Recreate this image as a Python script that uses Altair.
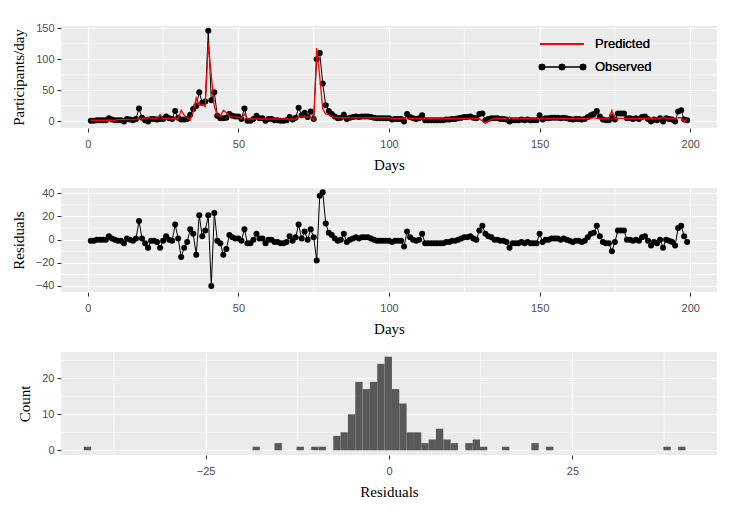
import altair as alt
import pandas as pd

# ---------------- data ----------------
days = list(range(1, 200))

observed = [
    1, 1, 2, 2, 2, 2, 5, 3, 2, 2,
    2, 0, 4, 3, 2, 4, 21, 6, 2, 0,
    4, 4, 3, 4, 4, 8, 5, 4, 17, 6,
    3, 3, 4, 11, 20, 25, 47, 30, 32, 146,
    34, 47, 9, 5, 5, 6, 12, 9, 8, 8,
    4, 21, 1, 1, 4, 9, 5, 5, 1, 4,
    4, 2, 2, 1, 1, 2, 7, 3, 6, 22,
    10, 14, 7, 16, 4, 100, 110, 61, 26, 17,
    12, 8, 5, 6, 11, 4, 6, 7, 8, 7,
    8, 8, 8, 7, 6, 5, 5, 5, 5, 5,
    3, 4, 4, 4, 0, 12, 7, 5, 4, 5,
    10, 2, 2, 2, 2, 2, 2, 2, 3, 3,
    4, 4, 5, 6, 7, 7, 8, 6, 5, 12,
    13, 2, 4, 5, 5, 5, 4, 4, 3, 0,
    2, 2, 2, 3, 2, 3, 2, 2, 2, 10,
    3, 5, 5, 6, 6, 6, 5, 6, 5, 4,
    3, 4, 4, 3, 4, 7, 10, 12, 17, 8,
    3, 2, 2, 8, 3, 13, 13, 13, 5, 5,
    4, 5, 4, 7, 8, 4, 0, 3, 2, 5,
    0, 5, 4, 3, 0, 16, 18, 3, 2,
]

predicted = [
    2, 2, 2, 2, 2, 2, 2, 2, 2, 3,
    3, 3, 3, 3, 3, 3, 5, 5, 5, 7,
    5, 5, 5, 11, 5, 5, 5, 5, 4, 5,
    18, 10, 6, 2, 15, 38, 26, 27, 24, 125,
    74, 24, 10, 8, 18, 14, 8, 7, 7, 7,
    5, 12, 4, 4, 4, 4, 4, 4, 4, 4,
    4, 4, 4, 4, 4, 4, 4, 4, 4, 9,
    9, 7, 7, 7, 2, 118, 72, 20, 12, 11,
    8, 7, 6, 6, 6, 6, 6, 6, 6, 6,
    6, 6, 6, 6, 6, 6, 6, 6, 6, 6,
    5, 5, 5, 5, 6, 5, 5, 5, 5, 5,
    5, 5, 5, 5, 5, 5, 5, 5, 5, 5,
    5, 5, 5, 5, 5, 5, 5, 5, 5, 4,
    1, -3, 1, 3, 5, 5, 5, 5, 5, 7,
    5, 5, 5, 5, 5, 5, 5, 5, 5, 5,
    5, 5, 5, 5, 5, 5, 5, 5, 5, 5,
    5, 5, 5, 5, 5, 5, 5, 6, 5, 5,
    5, 5, 5, 18, 5, 5, 5, 5, 5, 5,
    5, 5, 5, 5, 5, 5, 5, 5, 5, 5,
    7, 5, 5, 5, 5, 6, 6, 0, 4,
]

residuals = [
    -1, -1, 0, 0, 0, 0, 3, 1, 0, -1,
    -1, -3, 1, 0, -1, 1, 16, 1, -3, -7,
    -1, -1, -2, -7, -1, 3, 0, -1, 13, 1,
    -15, -7, -2, 9, 5, -13, 21, 3, 8, 21,
    -40, 23, -1, -3, -13, -8, 4, 2, 1, 1,
    -1, 9, -3, -3, 0, 5, 1, 1, -3, 0,
    0, -2, -2, -3, -3, -2, 3, -1, 2, 13,
    1, 7, 0, 9, 2, -18, 38, 41, 14, 6,
    4, 1, -1, 0, 5, -2, 0, 1, 2, 1,
    2, 2, 2, 1, 0, -1, -1, -1, -1, -1,
    -2, -1, -1, -1, -6, 7, 2, 0, -1, 0,
    5, -3, -3, -3, -3, -3, -3, -3, -2, -2,
    -1, -1, 0, 1, 2, 2, 3, 1, 0, 8,
    12, 5, 3, 2, 0, 0, -1, -1, -2, -7,
    -3, -3, -3, -2, -3, -2, -3, -3, -3, 5,
    -2, 0, 0, 1, 1, 1, 0, 1, 0, -1,
    -2, -1, -1, -2, -1, 2, 5, 6, 12, 3,
    -2, -3, -3, -10, -2, 8, 8, 8, 0, 0,
    -1, 0, -1, 2, 3, -1, -5, -2, -3, 0,
    -7, 0, -1, -2, -5, 10, 12, 3, -2,
]

# histogram of residuals (bin lower edges, width 1)
hist_lo = [-41.6, -18.6, -15.6, -12.6, -10.6, -9.6,
           -7.6, -6.6, -5.6, -4.6, -3.6, -2.6, -1.6, -0.6, 0.4, 1.4,
           2.4, 3.4, 4.4, 5.4, 6.4, 7.4, 8.4,
           10.4, 11.4, 12.4, 15.4, 19.4, 21.4, 37.4, 39.4]
hist_count = [1, 1, 2, 1, 1, 1,
              4, 5, 10, 19, 17, 19, 24, 26, 17, 13,
              5, 5, 2, 3, 6, 3, 2,
              2, 3, 1, 1, 2, 1, 1, 1]
bin_width = 1.0

days_ticks = [0, 50, 100, 150, 200]
days_minor = [25, 75, 125, 175]
p_ticks = [0, 50, 100, 150]
p_minor = [25, 75, 125]
r_ticks = [-40, -20, 0, 20, 40]
r_minor = [-30, -10, 10, 30]
h_xticks = [-25, 0, 25]
h_xminor = [-37.5, -12.5, 12.5, 37.5]
h_yticks = [0, 10, 20]
h_yminor = [5, 15, 25]

legend_labels = ["Predicted", "Observed"]

# ---------------- tables ----------------
ts = pd.DataFrame({"day": days, "observed": observed,
                   "predicted": predicted, "residual": residuals})
hist = pd.DataFrame({"lo": hist_lo, "count": hist_count})
hist["hi"] = hist["lo"] + bin_width

LABEL_FONT = "Liberation Sans"
TITLE_FONT = "Liberation Serif"
W = 656
DOT = 36

# ---------------- panel 1 ----------------
xs_days = alt.Scale(domain=[-8.9, 208.9], nice=False, zero=False)
ax_days = alt.Axis(values=days_ticks, title="Days", format="d")
ys_p = alt.Scale(domain=[-10.5, 153.5], nice=False, zero=False)
ax_p = alt.Axis(values=p_ticks, title="Participants/day")

base1 = alt.Chart(ts)
obs_line = base1.mark_line(color="black", strokeWidth=1).encode(
    x=alt.X("day:Q", scale=xs_days, axis=ax_days),
    y=alt.Y("observed:Q", scale=ys_p, axis=ax_p))
obs_pts = base1.mark_circle(color="black", size=DOT, opacity=1).encode(
    x=alt.X("day:Q", scale=xs_days, axis=ax_days),
    y=alt.Y("observed:Q", scale=ys_p, axis=ax_p))
pred_line = base1.mark_line(color="#FF0000", strokeWidth=1.3).encode(
    x=alt.X("day:Q", scale=xs_days, axis=ax_days),
    y=alt.Y("predicted:Q", scale=ys_p, axis=ax_p))

mx1 = alt.Chart(pd.DataFrame({"day": days_minor})).mark_rule(
    color="white", strokeWidth=0.6).encode(
    x=alt.X("day:Q", scale=xs_days, axis=ax_days))
my1 = alt.Chart(pd.DataFrame({"observed": p_minor})).mark_rule(
    color="white", strokeWidth=0.6).encode(
    y=alt.Y("observed:Q", scale=ys_p, axis=ax_p))

leg = pd.DataFrame({"label": legend_labels})
leg_pred_line = alt.Chart(leg).mark_rule(color="#FF0000", strokeWidth=2).encode(
    x=alt.value(479), x2=alt.value(523), y=alt.value(18))
leg_obs_line = alt.Chart(leg).mark_rule(color="black", strokeWidth=1.2).encode(
    x=alt.value(481), x2=alt.value(522), y=alt.value(41))
leg_dots = [alt.Chart(leg).mark_circle(color="black", size=44, opacity=1).encode(
    x=alt.value(px), y=alt.value(41)) for px in (481, 501, 522)]
leg_t1 = alt.Chart(leg).mark_text(align="left", baseline="middle", font=LABEL_FONT,
                                  fontSize=13, color="black").encode(
    x=alt.value(534), y=alt.value(18), text=alt.value(legend_labels[0]))
leg_t2 = alt.Chart(leg).mark_text(align="left", baseline="middle", font=LABEL_FONT,
                                  fontSize=13, color="black").encode(
    x=alt.value(534), y=alt.value(41), text=alt.value(legend_labels[1]))

panel1 = alt.layer(mx1, my1, obs_line, obs_pts, pred_line,
                   leg_pred_line, leg_obs_line, *leg_dots, leg_t1, leg_t2
                   ).properties(width=W, height=102)

# ---------------- panel 2 ----------------
ys_r = alt.Scale(domain=[-45.2, 44.6], nice=False, zero=False)
ax_r = alt.Axis(values=r_ticks, title="Residuals")
base2 = alt.Chart(ts)
res_line = base2.mark_line(color="black", strokeWidth=1).encode(
    x=alt.X("day:Q", scale=xs_days, axis=ax_days),
    y=alt.Y("residual:Q", scale=ys_r, axis=ax_r))
res_pts = base2.mark_circle(color="black", size=DOT, opacity=1).encode(
    x=alt.X("day:Q", scale=xs_days, axis=ax_days),
    y=alt.Y("residual:Q", scale=ys_r, axis=ax_r))
mx2 = alt.Chart(pd.DataFrame({"day": days_minor})).mark_rule(
    color="white", strokeWidth=0.6).encode(
    x=alt.X("day:Q", scale=xs_days, axis=ax_days))
my2 = alt.Chart(pd.DataFrame({"residual": r_minor})).mark_rule(
    color="white", strokeWidth=0.6).encode(
    y=alt.Y("residual:Q", scale=ys_r, axis=ax_r))
panel2 = alt.layer(mx2, my2, res_line, res_pts).properties(width=W, height=104)

# ---------------- panel 3 ----------------
xs_h = alt.Scale(domain=[-44.7, 44.7], nice=False, zero=False)
ax_hx = alt.Axis(values=h_xticks, title="Residuals", format="d")
ys_h = alt.Scale(domain=[-1.3, 27.3], nice=False, zero=False)
ax_hy = alt.Axis(values=h_yticks, title="Count")
bars = alt.Chart(hist).mark_rect(color="#595959").encode(
    x=alt.X("lo:Q", scale=xs_h, axis=ax_hx),
    x2="hi:Q",
    y=alt.Y("count:Q", scale=ys_h, axis=ax_hy),
    y2=alt.datum(0))
mx3 = alt.Chart(pd.DataFrame({"lo": h_xminor})).mark_rule(
    color="white", strokeWidth=0.6).encode(x=alt.X("lo:Q", scale=xs_h, axis=ax_hx))
my3 = alt.Chart(pd.DataFrame({"count": h_yminor})).mark_rule(
    color="white", strokeWidth=0.6).encode(y=alt.Y("count:Q", scale=ys_h, axis=ax_hy))
panel3 = alt.layer(mx3, my3, bars).properties(width=W, height=103)

chart = alt.vconcat(panel1, panel2, panel3, spacing=15).properties(
    padding={"left": 3, "top": 14, "right": 5, "bottom": 5}
).configure_view(
    fill="#EBEBEB", strokeWidth=0
).configure_axis(
    domain=False, grid=True, gridColor="white", gridWidth=1.2,
    tickColor="#333333", tickSize=4, tickWidth=1,
    labelFont=LABEL_FONT, labelFontSize=11, labelColor="#4D4D4D",
    labelOverlap=False,
    titleFont=TITLE_FONT, titleFontSize=15, titleFontWeight="normal",
    titleColor="black"
).configure_axisX(
    labelPadding=6, titlePadding=8
).configure_axisY(
    labelPadding=3, titlePadding=9
)

chart.save("out.html", embed_options={"renderer": "svg", "actions": False})
